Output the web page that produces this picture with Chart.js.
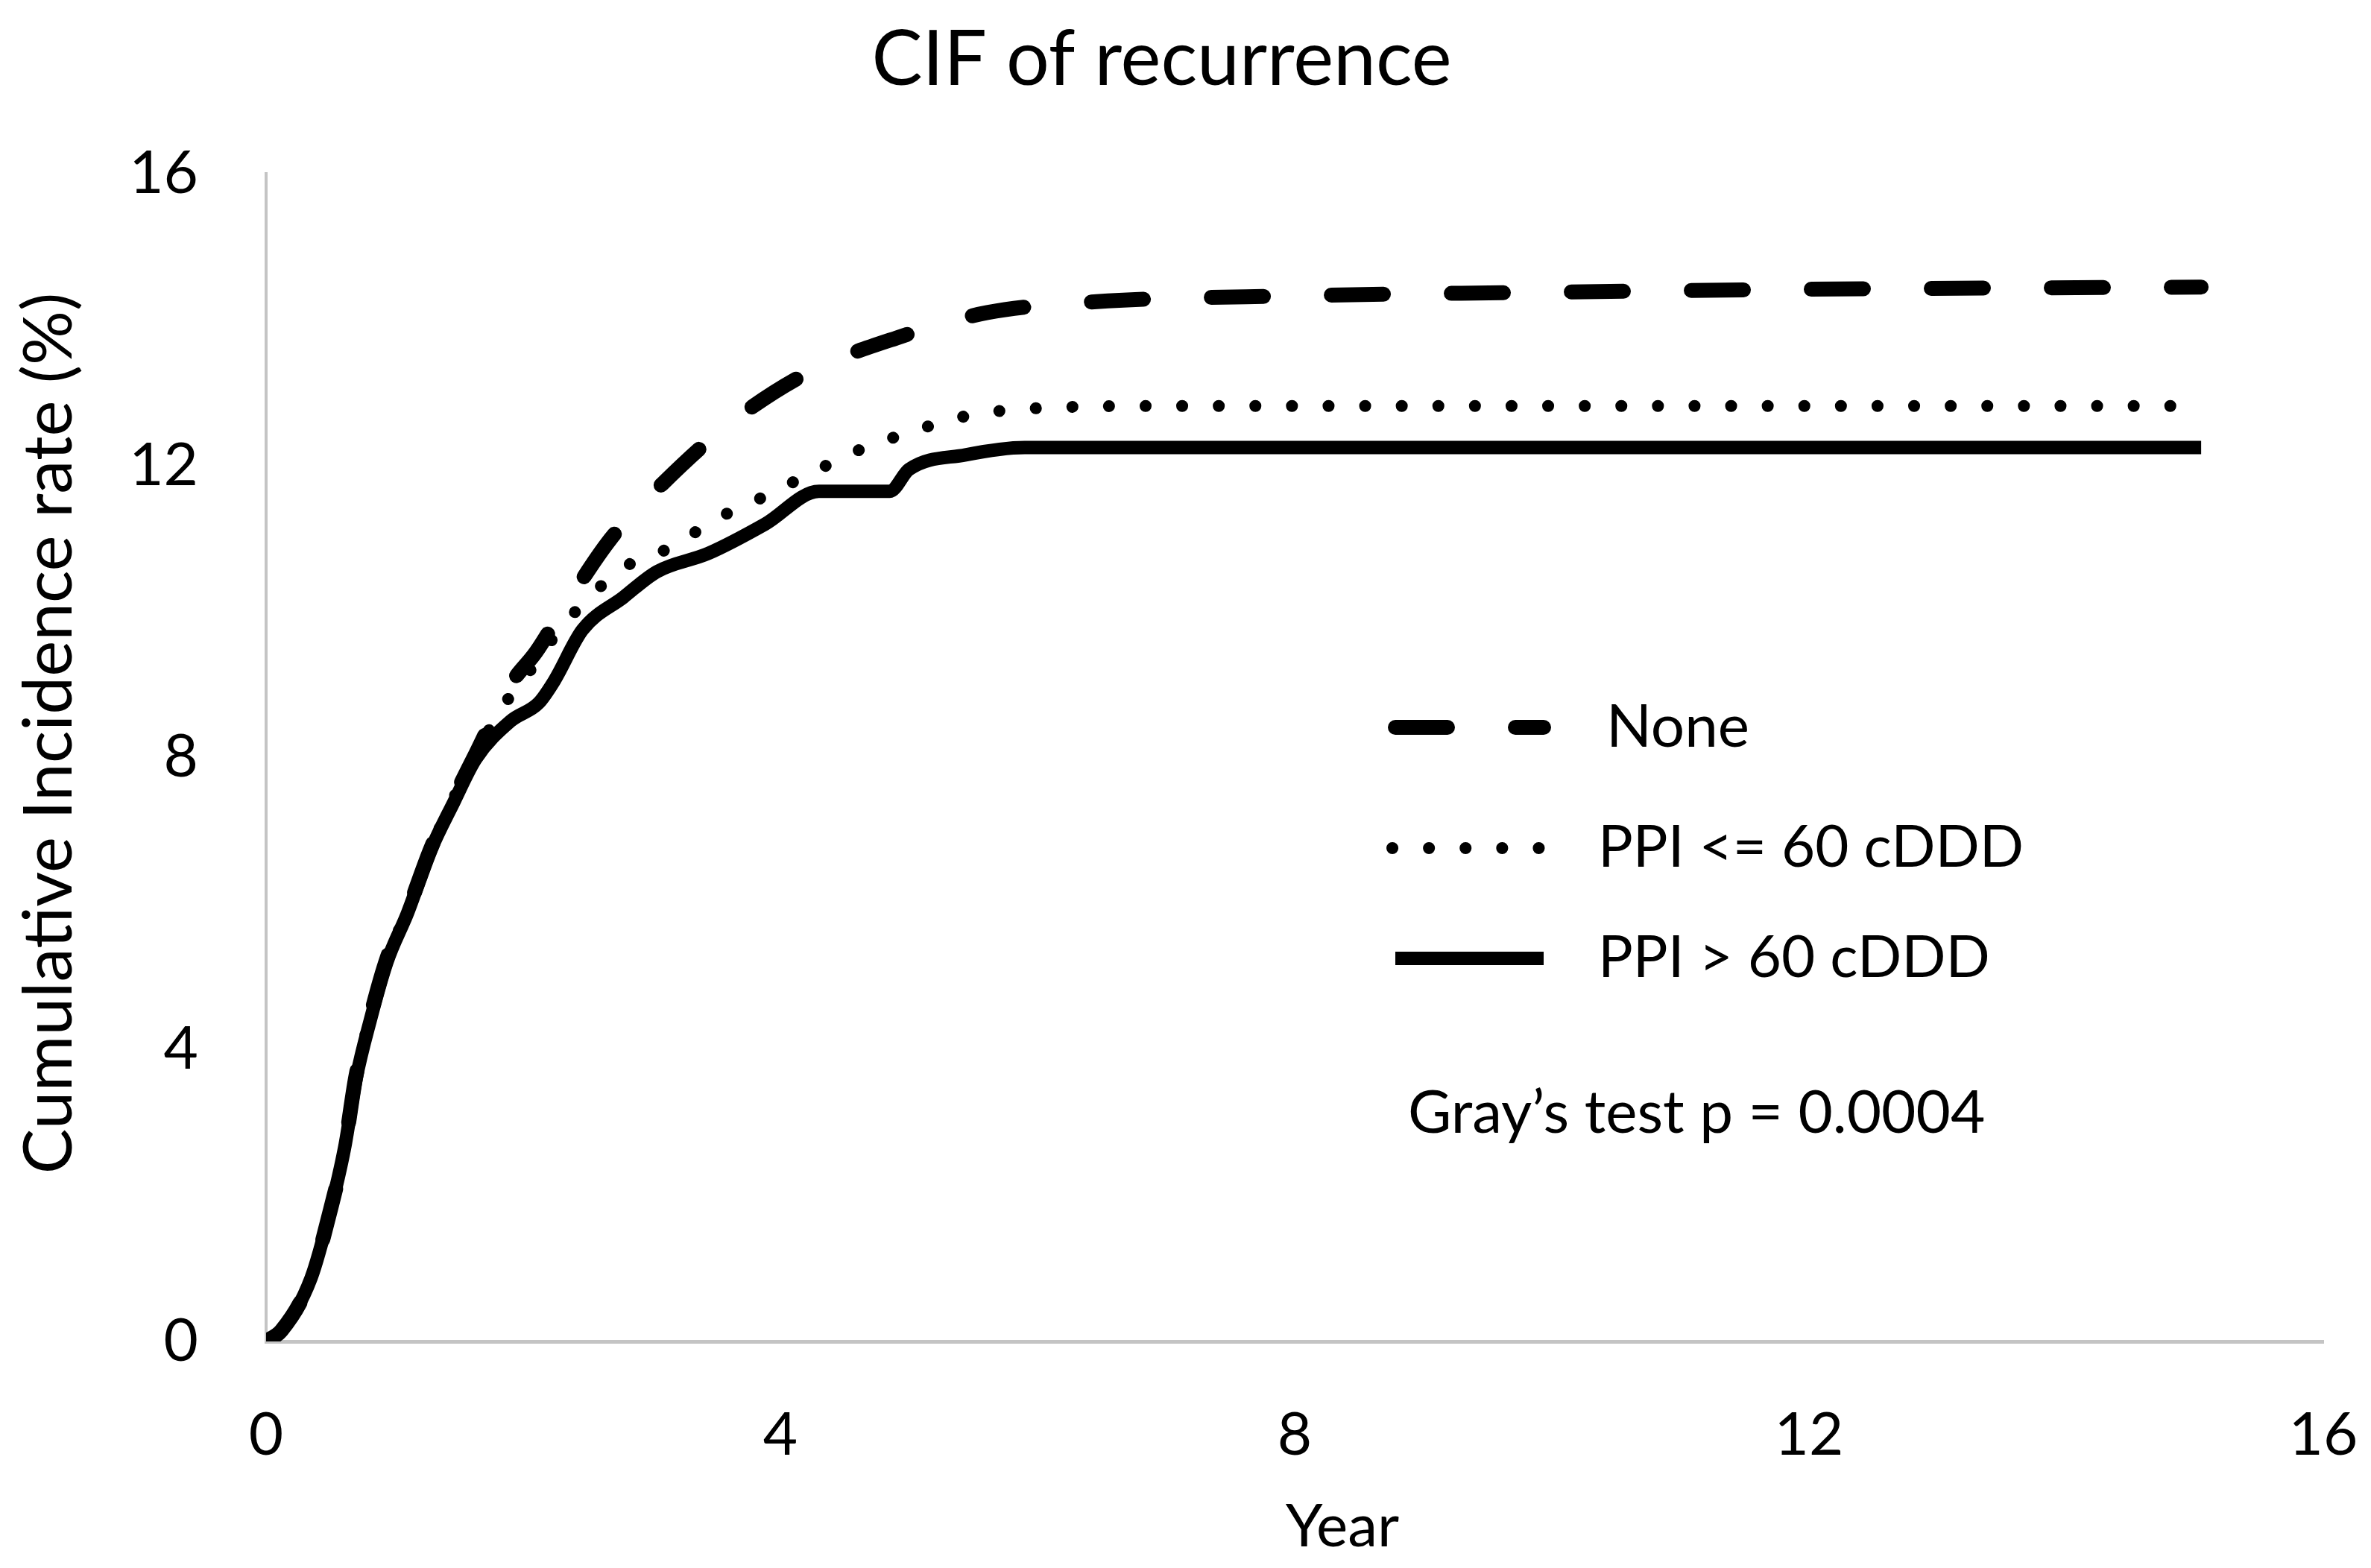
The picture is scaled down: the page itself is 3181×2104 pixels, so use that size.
<!DOCTYPE html>
<html>
<head>
<meta charset="utf-8">
<script src="https://cdn.jsdelivr.net/npm/chart.js@4.4.1/dist/chart.umd.min.js"></script>
<style>
  html, body { margin: 0; padding: 0; background: #fff; }
  #box { width: 3181px; height: 2104px; }
</style>
</head>
<body>
<div id="box"><canvas id="cif"></canvas></div>
<script>
// x / y ticks
const xTicks = [0, 4, 8, 12, 16]
const yTicks = [0, 4, 8, 12, 16]

// None (dashed)
const noneYears = [0, 0.12, 0.35, 0.5, 0.61, 0.7, 0.81, 0.94, 1.1, 1.28, 1.46, 1.63, 1.9, 2.1, 2.28, 2.68, 3.08, 3.62, 4.24, 4.9, 5.61, 6.46, 8, 10, 12, 15.05]
const noneRate  = [0, 0.15, 0.87, 1.8, 2.65, 3.65, 4.45, 5.25, 5.9, 6.75, 7.45, 8.05, 9.0, 9.45, 9.95, 11.0, 11.75, 12.6, 13.3, 13.75, 14.1, 14.25, 14.33, 14.38, 14.42, 14.45]

// PPI <= 60 cDDD (dotted)
const lowYears = [0, 0.12, 0.35, 0.5, 0.61, 0.7, 0.81, 0.94, 1.1, 1.28, 1.46, 1.63, 1.9, 2.1, 2.28, 2.78, 3.17, 3.48, 3.84, 4.24, 4.59, 4.99, 5.44, 5.9, 7, 15.05]
const lowRate  = [0, 0.15, 0.87, 1.8, 2.65, 3.65, 4.45, 5.25, 5.9, 6.75, 7.45, 8.05, 8.85, 9.3, 9.75, 10.6, 10.9, 11.25, 11.55, 11.9, 12.2, 12.45, 12.68, 12.78, 12.82, 12.82]

// PPI > 60 cDDD (solid)
const highYears = [0, 0.12, 0.35, 0.5, 0.61, 0.7, 0.81, 0.94, 1.1, 1.28, 1.46, 1.63, 1.9, 2.12, 2.24, 2.46, 2.78, 3.04, 3.44, 3.88, 4.3, 4.85, 5.0, 5.44, 5.9, 15.05]
const highRate  = [0, 0.15, 0.87, 1.8, 2.65, 3.6, 4.4, 5.2, 5.87, 6.73, 7.39, 7.98, 8.5, 8.75, 9.05, 9.75, 10.2, 10.55, 10.8, 11.2, 11.65, 11.65, 11.95, 12.15, 12.25, 12.25]

const labels = ["None", "PPI <= 60 cDDD", "PPI > 60 cDDD"]
const note = "Gray\u2019s test p = 0.0004"
const xTitle = "Year"
const yTitle = "Cumulative Incidence rate (%)"

const FONT = "Lato"
const pts = (xs, ys) => xs.map((x, i) => ({ x: x, y: ys[i] }))

// legend, note and axis titles, drawn after the chart
const legendBox = {
    id: "legendBox",
    afterDraw(chart) {
        const ctx = chart.ctx
        const rows = [976, 1138, 1286]
        ctx.save()
        chart.data.datasets.forEach((ds, i) => {
            ctx.beginPath()
            ctx.strokeStyle = ds.borderColor
            ctx.lineWidth = ds.borderWidth
            ctx.lineCap = ds.borderCapStyle
            ctx.setLineDash(ds.borderDash || [])
            const x0 = i == 1 ? 1868 : 1872
            const x1 = i == 1 ? 2066 : 2071
            ctx.moveTo(x0, rows[i])
            ctx.lineTo(x1, rows[i])
            ctx.stroke()
        })
        ctx.setLineDash([])
        ctx.fillStyle = "#000"
        ctx.textBaseline = "middle"
        ctx.textAlign = "left"
        ctx.font = "80px " + FONT
        ctx.fillText(labels[0], 2155, rows[0])
        ctx.font = "78px " + FONT
        ctx.fillText(labels[1], 2144, rows[1])
        ctx.fillText(labels[2], 2144, rows[2])
        ctx.font = "80px " + FONT
        ctx.fillText(note, 1889, 1494)

        // axis titles
        ctx.textAlign = "center"
        ctx.fillText(xTitle, 1801, 2049)
        ctx.translate(67, 984)
        ctx.rotate(-Math.PI / 2)
        ctx.font = "91px " + FONT
        ctx.fillText(yTitle, 0, 0)
        ctx.restore()
    }
}

new Chart(document.getElementById("cif"), {
    type: "line",
    data: {
        datasets: [{
            label: labels[0],
            data: pts(noneYears, noneRate),
            borderColor: "#000",
            borderWidth: 20,
            borderDash: [70, 91],
            borderCapStyle: "round",
            borderJoinStyle: "round",
            pointRadius: 0,
            cubicInterpolationMode: "monotone"
        }, {
            label: labels[1],
            data: pts(lowYears, lowRate),
            borderColor: "#000",
            borderWidth: 16,
            borderDash: [0.1, 49],
            borderCapStyle: "round",
            borderJoinStyle: "round",
            pointRadius: 0,
            cubicInterpolationMode: "monotone"
        }, {
            label: labels[2],
            data: pts(highYears, highRate),
            borderColor: "#000",
            borderWidth: 18,
            borderCapStyle: "butt",
            borderJoinStyle: "round",
            pointRadius: 0,
            cubicInterpolationMode: "monotone"
        }]
    },
    options: {
        animation: false,
        responsive: true,
        maintainAspectRatio: false,
        devicePixelRatio: 1,
        layout: { padding: { left: 0, right: 64, top: 0, bottom: 0 } },
        plugins: {
            legend: { display: false },
            tooltip: { enabled: false },
            title: {
                display: true,
                text: "CIF of recurrence",
                color: "#000",
                font: { family: FONT, size: 102, weight: "normal" },
                padding: { top: 20, bottom: 91 }
            }
        },
        scales: {
            x: {
                type: "linear",
                min: 0, max: 16,
                afterBuildTicks: s => { s.ticks = xTicks.map(v => ({ value: v })) },
                afterFit: s => { s.height = 304; s.paddingLeft = 0; s.paddingRight = 0 },
                grid: { display: false },
                border: { display: true, color: "#c4c4c4", width: 5 },
                ticks: { color: "#000", padding: 70, font: { family: FONT, size: 80 } }
            },
            y: {
                type: "linear",
                min: 0, max: 16,
                afterBuildTicks: s => { s.ticks = yTicks.map(v => ({ value: v })) },
                afterFit: s => { s.width = 357 },
                grid: { display: false },
                border: { display: true, color: "#c4c4c4", width: 4 },
                ticks: { color: "#000", padding: 83, font: { family: FONT, size: 80 } }
            }
        }
    },
    plugins: [legendBox]
})
</script>
</body>
</html>
